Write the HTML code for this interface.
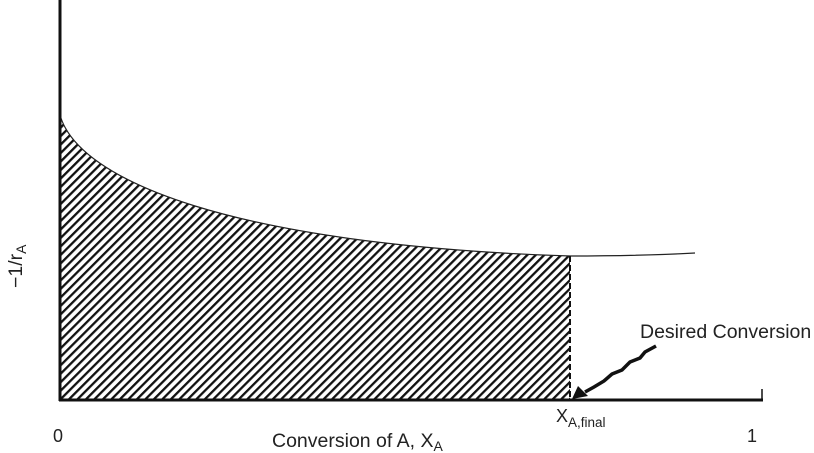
<!DOCTYPE html>
<html><head><style>body{margin:0;background:#fff}svg{display:block}</style></head><body>
<svg width="814" height="453" viewBox="0 0 814 453" xmlns="http://www.w3.org/2000/svg">
<defs>
<pattern id="h" patternUnits="userSpaceOnUse" width="6" height="6" patternTransform="rotate(45)">
<rect x="0" y="0" width="2.3" height="6" fill="#111"/>
</pattern>
<clipPath id="c"><path d="M60,115 C78,180 230,245 570,256 L570,400 L60,400 Z"/></clipPath>
</defs>
<rect x="60" y="100" width="512" height="300" fill="url(#h)" clip-path="url(#c)"/>
<path d="M60,115 C78,180 230,245 570,256 Q640,256 695,253" fill="none" stroke="#222" stroke-width="1.2"/>
<line x1="570" y1="256" x2="570" y2="400" stroke="#111" stroke-width="2" stroke-dasharray="6,3"/>
<line x1="60" y1="0" x2="60" y2="401" stroke="#111" stroke-width="3"/>
<line x1="59" y1="400" x2="763" y2="400" stroke="#111" stroke-width="3"/>
<line x1="762" y1="389" x2="762" y2="401" stroke="#111" stroke-width="1.5"/>
<path d="M656,346 L645,352 L640,358 L630,362 L622,370 L612,374 L604,381 L594,387 L585,392" fill="none" stroke="#111" stroke-width="3.5"/>
<polygon points="572,399 578,386 588,396" fill="#111"/>
<g font-family="Liberation Sans, sans-serif" fill="#222">
<text x="640" y="338" font-size="19.5">Desired Conversion</text>
<text x="556" y="422" font-size="18">X<tspan font-size="13.5" dy="5">A,final</tspan></text>
<text x="53" y="442" font-size="18">0</text>
<text x="747" y="442" font-size="18">1</text>
<text x="272" y="447" font-size="19.5">Conversion of A, X<tspan font-size="14" dy="4">A</tspan></text>
<text transform="translate(22,288) rotate(-90)" font-size="19.5">−1/r<tspan font-size="14" dy="4">A</tspan></text>
</g>
</svg>
</body></html>
